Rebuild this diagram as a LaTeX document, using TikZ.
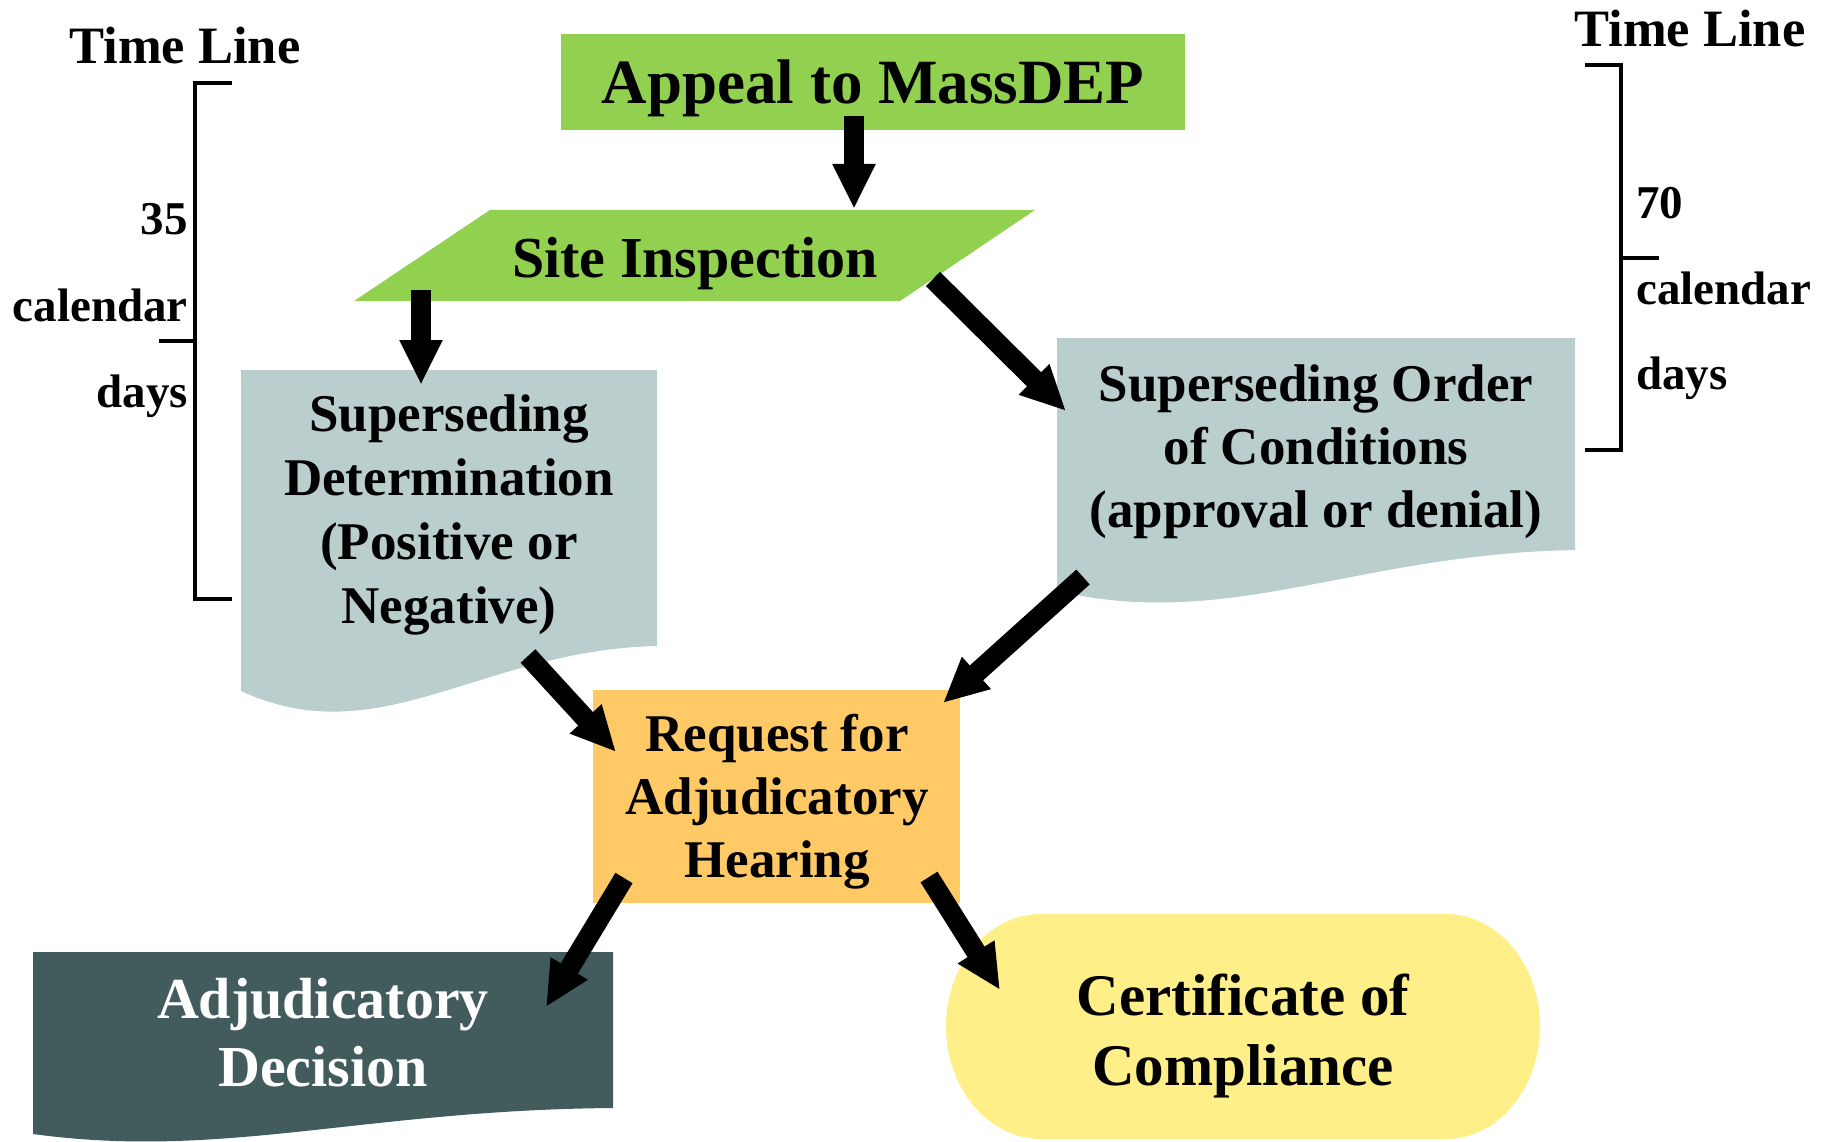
\documentclass[tikz,border=0pt]{standalone}
\usepackage{fontspec}
\setmainfont{Liberation Serif}
\usetikzlibrary{arrows.meta}
\definecolor{cgreen}{HTML}{92D050}
\definecolor{cblue}{RGB}{185,206,205}
\definecolor{corange}{RGB}{255,202,102}
\definecolor{cdark}{RGB}{66,91,92}
\definecolor{cyellow}{RGB}{255,239,136}
\begin{document}
\begin{tikzpicture}[x=1pt,y=-1pt,
  txt/.style={inner sep=0pt, align=center, text=black},
  f63/.style={txt, font=\fontsize{63}{74}\selectfont\bfseries},
  f58/.style={txt, font=\fontsize{58}{68}\selectfont\bfseries},
  f53/.style={txt, font=\fontsize{53}{64}\selectfont\bfseries},
  f59/.style={txt, font=\fontsize{59}{70}\selectfont\bfseries},
  ftl/.style={txt, font=\fontsize{52.5}{60}\selectfont\bfseries},
  fside/.style={txt, font=\fontsize{47}{56}\selectfont\bfseries},
  bigarrow/.style={line width=20pt, -{Triangle[width=40pt,length=45pt]}},
  bracket/.style={line width=3.6pt, line join=miter}]
\useasboundingbox (0,0) rectangle (1821,1142);

% shapes
\fill[cgreen] (561,34) rectangle (1185,130);
\fill[cgreen] (490,210) -- (1035,210) -- (900,301) -- (354,301) -- cycle;
\fill[cblue] (241,370) -- (657,370) -- (657,646) .. controls (480,650) and (380,755) .. (241,691) -- cycle;
\fill[cblue] (1057,338) -- (1575,338) -- (1575,550) .. controls (1355,554) and (1230,631) .. (1057,591) -- cycle;
\fill[corange] (593,690) rectangle (960,903);
\fill[cdark] (33,952) -- (613,952) -- (613,1108) .. controls (363,1110) and (223,1160) .. (33,1134) -- cycle;
\fill[cyellow] (1041,914) -- (1446,914) arc[start angle=-90, end angle=90, x radius=94, y radius=112.5]
  -- (1041,1139) arc[start angle=90, end angle=270, x radius=95, y radius=112.5] -- cycle;

% texts
\node[f63, anchor=base] (appeal) at (873,104) {Appeal to MassDEP};
\node[f58, anchor=base] (site) at (695,277) {Site Inspection};
\node[f53] (sd) at (449,515) {Superseding\\Determination\\(Positive or\\Negative)};
\node[f53, font=\fontsize{53}{63}\selectfont\bfseries] (soc) at (1316,452) {Superseding Order\\of Conditions\\(approval or denial)};
\node[f53, font=\fontsize{53}{63}\selectfont\bfseries] (req) at (777,802) {Request for\\Adjudicatory\\Hearing};
\node[f58, text=white] (ad) at (323,1033) {Adjudicatory\\Decision};
\node[f59] (cert) at (1243,1036) {Certificate of\\Compliance};

% time lines
\node[ftl, anchor=base] (tl1) at (185,64) {Time Line};
\node[ftl, anchor=base] (tl2) at (1690,47) {Time Line};
\node[fside, anchor=base east] (l35) at (188,235) {35};
\node[fside, anchor=base east] (lcal) at (188,321) {calendar};
\node[fside, anchor=base east] (ldays) at (188,407) {days};
\node[fside, anchor=base west] (r70) at (1636,219) {70};
\node[fside, anchor=base west] (rcal) at (1636,304) {calendar};
\node[fside, anchor=base west] (rdays) at (1636,389) {days};

\draw[bracket] (232,83) -- (195,83) -- (195,599) -- (232,599);
\draw[bracket] (159,341) -- (195,341);
\draw[bracket] (1585,65) -- (1621,65) -- (1621,450) -- (1585,450);
\draw[bracket] (1621,258) -- (1659,258);

% connector ends
\coordinate (a1s) at (854,116);  \coordinate (a1e) at (854,209);
\coordinate (a2s) at (421,290);  \coordinate (a2e) at (421,385);
\coordinate (a3s) at (933,279);  \coordinate (a3e) at (1066,411);
\coordinate (a4s) at (528,656);  \coordinate (a4e) at (616,752);
\coordinate (a5s) at (1083,577); \coordinate (a5e) at (943,703);
\coordinate (a6s) at (624,878);  \coordinate (a6e) at (546,1007);
\coordinate (a7s) at (929,877);  \coordinate (a7e) at (1000,990);

\draw[bigarrow] (a1s) -- (a1e);
\draw[bigarrow] (a2s) -- (a2e);
\draw[bigarrow] (a3s) -- (a3e);
\draw[bigarrow] (a4s) -- (a4e);
\draw[bigarrow] (a5s) -- (a5e);
\draw[bigarrow] (a6s) -- (a6e);
\draw[bigarrow] (a7s) -- (a7e);
\end{tikzpicture}
\end{document}
